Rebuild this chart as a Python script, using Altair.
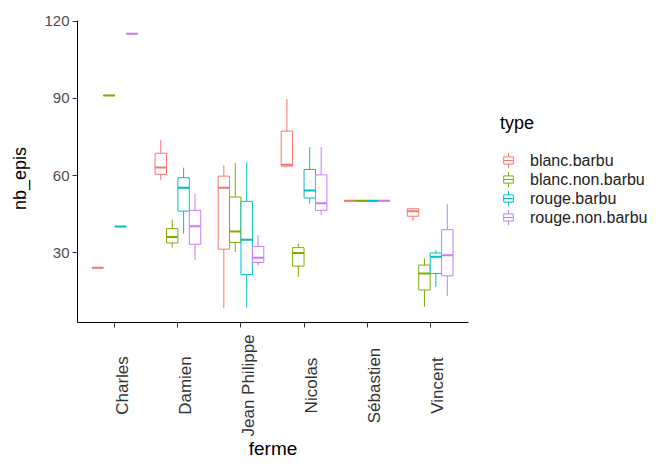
import altair as alt
import pandas as pd

fermes = ["Charles", "Damien", "Jean Philippe", "Nicolas", "Sébastien", "Vincent"]
types = ["blanc.barbu", "blanc.non.barbu", "rouge.barbu", "rouge.non.barbu"]
colors = ["#F8766D", "#7CAE00", "#00BFC4", "#C77CFF"]

# per ferme: [lower whisker, q1, median, q3, upper whisker]
blanc_barbu = [
    [24, 24, 24, 24, 24],
    [58, 60.3, 63, 68.5, 73.7],
    [8.2, 31.2, 55.1, 59.6, 63.8],
    [63.5, 63.5, 64, 77.1, 89.6],
    [50, 50, 50, 50, 50],
    [42.1, 44, 45.9, 46.9, 47.2],
]
blanc_non_barbu = [
    [91, 91, 91, 91, 91],
    [31.8, 33.6, 35.9, 39.2, 42.7],
    [30.1, 33.8, 38.1, 51.5, 64.7],
    [20.4, 24.6, 29.7, 31.8, 33.4],
    [50, 50, 50, 50, 50],
    [8.8, 15.3, 21.7, 25, 27.6],
]
rouge_barbu = [
    [40, 40, 40, 40, 40],
    [37.2, 46, 55.1, 59, 62.9],
    [8.5, 21.3, 34.9, 49.8, 65],
    [48.9, 51.1, 54, 62.2, 70.9],
    [50, 50, 50, 50, 50],
    [16.5, 21.7, 28.2, 29.7, 30.8],
]
rouge_non_barbu = [
    [115, 115, 115, 115, 115],
    [26.9, 33.1, 40.1, 46.3, 52.8],
    [25, 26, 27.9, 32.3, 36.6],
    [44.4, 46.3, 49.1, 60.1, 70.9],
    [50, 50, 50, 50, 50],
    [12.9, 20.8, 28.8, 38.8, 48.7],
]

series = [blanc_barbu, blanc_non_barbu, rouge_barbu, rouge_non_barbu]
rows = []
for t, s in zip(types, series):
    for f, st in zip(fermes, s):
        rows.append(dict(ferme=f, type=t, lower=st[0], q1=st[1], median=st[2], q3=st[3], upper=st[4]))
df = pd.DataFrame(rows)

yscale = alt.Scale(domain=[2.86, 120.34], nice=False, zero=False)
xscale = alt.Scale(domain=fermes, paddingInner=0, paddingOuter=0.1)
offscale = alt.Scale(domain=types, paddingInner=0, paddingOuter=0.76)
cscale = alt.Scale(domain=types, range=colors)

box_path = "M-0.6,-0.45H0.6V0.45H-0.6Z M-0.6,0H0.6 M0,-0.45V-0.95 M0,0.45V0.95"

legend = alt.Legend(
    title="type",
    orient="none",
    legendX=423,
    legendY=95,
    symbolType=box_path,
    symbolSize=256,
    symbolStrokeWidth=1,
    symbolFillColor="white",
    labelFontSize=16,
    labelColor="#222222",
    titleFontSize=18,
    titleFontWeight="normal",
    titleColor="black",
    titlePadding=19,
    rowPadding=-2,
    labelOffset=13,
    padding=0,
)

base = alt.Chart(df).encode(
    x=alt.X(
        "ferme:N",
        scale=xscale,
        axis=alt.Axis(
            title="ferme",
            labelAngle=270,
            labelAlign="center",
            labelBaseline="top",
            labelPadding=58,
            labelFontSize=17,
            labelColor="#333333",
            titleFontSize=19,
            titleFontWeight="normal",
            titleY=132,
            titleBaseline="alphabetic",
        ),
    ),
    xOffset=alt.XOffset("type:N", scale=offscale),
    stroke=alt.Stroke("type:N", scale=cscale, legend=legend),
)

yaxis = alt.Axis(
    title="nb_epis",
    values=[30, 60, 90, 120],
    labelFontSize=15,
    labelColor="#4D4D4D",
    labelPadding=3,
    titleFontSize=18,
    titleFontWeight="normal",
    titleX=-57,
    titleY=158,
    titleBaseline="middle",
    titleAlign="center",
    titleAngle=270,
)

whisker = base.mark_rule(strokeWidth=1).encode(
    y=alt.Y("lower:Q", scale=yscale, axis=yaxis),
    y2="upper:Q",
)

box = base.mark_bar(fill="white", strokeWidth=1).encode(
    y=alt.Y("q1:Q", scale=yscale),
    y2="q3:Q",
)

median = base.mark_bar(fill="white", strokeWidth=2).encode(
    y=alt.Y("median:Q", scale=yscale),
    y2="median:Q",
)

chart = (
    alt.layer(whisker, box, median)
    .properties(
        width=391,
        height=302,
        autosize=alt.AutoSizeParams(type="none"),
        padding={"left": 69, "top": 12, "right": 180, "bottom": 136},
    )
    .configure_view(stroke=None)
    .configure_axis(
        grid=False,
        domainColor="black",
        domainWidth=1,
        tickColor="#333333",
        tickSize=5,
        labelFont="Liberation Sans",
        titleFont="Liberation Sans",
        titleColor="black",
    )
    .configure_legend(labelFont="Liberation Sans", titleFont="Liberation Sans")
)

chart.save("out.html", embed_options={"renderer": "svg", "actions": False})
